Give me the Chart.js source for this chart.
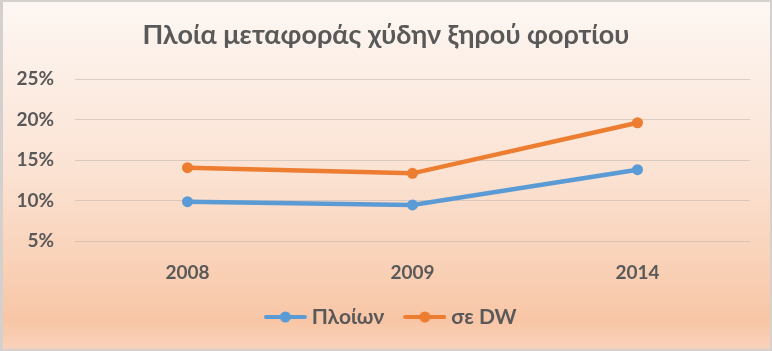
<!DOCTYPE html>
<html><head><meta charset="utf-8">
<script src="https://cdn.jsdelivr.net/npm/chart.js@4.4.0/dist/chart.umd.min.js"></script>
<style>html,body{margin:0;padding:0;background:#fff;}#wrap{width:772px;height:351px;}</style>
</head><body><div id="wrap"><canvas id="c" width="772" height="351"></canvas></div>
<script>
const titleText = 'Πλοία μεταφοράς χύδην ξηρού φορτίου';
const categories = ['2008', '2009', '2014'];
const seriesShipsLabel = 'Πλοίων';
const seriesShips = [9.85, 9.45, 13.8];
const seriesDWLabel = 'σε DW';
const seriesDW = [14.05, 13.35, 19.6];
const yMin = 5, yMax = 25, yStep = 5;

const BLUE = '#5B9BD5', ORANGE = '#ED7D31', TEXT = '#595959';
const FONT = "Lato, 'Open Sans', sans-serif";

function makeIcon(color) {
  const cv = document.createElement('canvas');
  cv.width = 43; cv.height = 12;
  const g = cv.getContext('2d');
  g.strokeStyle = color; g.lineWidth = 4; g.lineCap = 'round';
  g.beginPath(); g.moveTo(2, 6); g.lineTo(41, 6); g.stroke();
  g.fillStyle = color; g.beginPath(); g.arc(21.5, 6, 5.5, 0, Math.PI * 2); g.fill();
  return cv;
}
const icons = [makeIcon(BLUE), makeIcon(ORANGE)];

const bgPlugin = {
  id: 'bg',
  beforeDraw(chart) {
    const {ctx, width, height} = chart;
    ctx.save();
    ctx.fillStyle = '#d4d0ce';
    ctx.fillRect(0, 0, width, height);
    const gr = ctx.createLinearGradient(0, 2, 0, height - 2);
    gr.addColorStop(0, '#fdf7f3');
    gr.addColorStop(0.5, '#fbe2d2');
    gr.addColorStop(0.92, '#f8c6a6');
    gr.addColorStop(1, '#f9d2bb');
    ctx.fillStyle = gr;
    ctx.fillRect(3, 2, width - 5, height - 4);
    ctx.restore();
  }
};

const legendShift = {
  id: 'legendShift',
  afterLayout(chart) {
    if (chart.legend) { chart.legend.left += 7; chart.legend.right += 7; }
  }
};

new Chart(document.getElementById('c'), {
  type: 'line',
  data: {
    labels: categories,
    datasets: [
      {label: seriesShipsLabel, data: seriesShips, borderColor: BLUE, backgroundColor: BLUE,
       borderWidth: 4.5, pointRadius: 5.5, pointBackgroundColor: BLUE, pointBorderColor: BLUE, pointBorderWidth: 0, tension: 0},
      {label: seriesDWLabel, data: seriesDW, borderColor: ORANGE, backgroundColor: ORANGE,
       borderWidth: 4.5, pointRadius: 5.5, pointBackgroundColor: ORANGE, pointBorderColor: ORANGE, pointBorderWidth: 0, tension: 0}
    ]
  },
  options: {
    responsive: false,
    animation: false,
    layout: {padding: {left: 0, right: 0, top: 0, bottom: 13.5}},
    plugins: {
      title: {display: true, text: titleText, color: TEXT,
        font: {family: FONT, size: 27, weight: 'bold'}, padding: {top: 18.8, bottom: 27.8}},
      legend: {position: 'bottom',
        labels: {color: TEXT, font: {family: FONT, size: 21, weight: 'bold'},
          usePointStyle: true, pointStyleWidth: 32, padding: 24.5,
          generateLabels(chart) {
            const items = Chart.defaults.plugins.legend.labels.generateLabels(chart);
            items.forEach((it, i) => { it.pointStyle = icons[i]; });
            return items;
          }}},
      tooltip: {enabled: false}
    },
    scales: {
      x: {offset: true, grid: {display: false}, border: {display: false},
        ticks: {color: TEXT, font: {family: FONT, size: 19, weight: 'bold'}, padding: 12},
        afterFit(s) { s.height = 41; }},
      y: {min: yMin, max: yMax,
        grid: {color: 'rgba(190,180,175,0.55)', drawTicks: false, lineWidth: 1},
        border: {display: false},
        ticks: {stepSize: yStep, color: TEXT, font: {family: FONT, size: 19, weight: 'bold'}, padding: 21,
          callback: v => v + '%'},
        afterFit(s) { s.width = 75; }},
      yRightSpace: {type: 'linear', position: 'right', display: true,
        grid: {display: false}, border: {display: false}, ticks: {display: false},
        afterFit(s) { s.width = 22; }}
    }
  },
  plugins: [bgPlugin, legendShift]
});
</script></body></html>
